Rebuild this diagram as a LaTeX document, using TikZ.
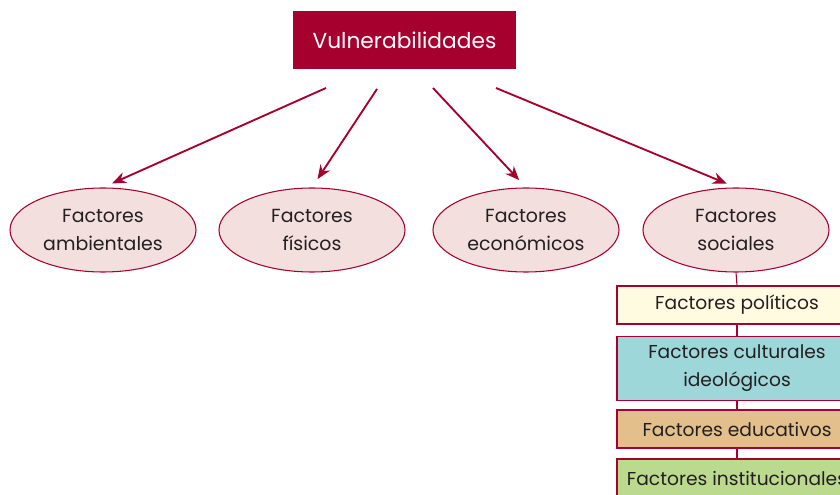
\documentclass[tikz,border=0pt]{standalone}
\usepackage{fontspec}
\setmainfont{Poppins}
\usepackage{tikz}
\usetikzlibrary{arrows.meta}
\usetikzlibrary{shapes.geometric}
\definecolor{vino}{HTML}{A6002F}
\definecolor{rosa}{HTML}{F4DFDF}
\definecolor{texto}{HTML}{231F20}
\definecolor{crema}{HTML}{FFFBE1}
\definecolor{turquesa}{HTML}{9DD7DA}
\definecolor{ocre}{HTML}{E3BF8C}
\definecolor{verde}{HTML}{BBDA8D}
\tikzset{titulo/.style = {fill=vino, text=white, minimum width=167.25pt, minimum height=43.5pt, inner sep=0, font=\fontsize{16.3}{20}\selectfont}}
\tikzset{factor/.style = {ellipse, draw=vino, fill=rosa, line width=0.8pt, minimum width=139.5pt, minimum height=63pt, inner sep=0, align=center, text=texto, font=\fontsize{14.2}{21}\selectfont}}
\tikzset{tipo/.style = {draw=vino, line width=1pt, minimum width=180pt, minimum height=28.5pt, inner sep=0, align=center, text=texto, font=\fontsize{14}{21}\selectfont}}
\tikzset{flecha/.style = {draw=vino, line width=1.4pt, -{Stealth[length=10.5pt, width=8.5pt]}, shorten >=7.5pt}}

\begin{document}
\begin{tikzpicture}[x=0.75pt, y=-0.75pt]
    \useasboundingbox (0, 0) rectangle (840, 495);
    \clip (0, 0) rectangle (840, 495);

    \node [titulo] (V) at (404.5, 40) {Vulnerabilidades};

    \node [factor] (amb) at (103, 230) {Factores\\ambientales};
    \node [factor] (fis) at (312, 230) {Factores\\físicos};
    \node [factor] (eco) at (526, 230) {Factores\\económicos};
    \node [factor] (soc) at (736, 230) {Factores\\sociales};

    \coordinate (s1) at (326, 88);
    \coordinate (s2) at (377, 89);
    \coordinate (s3) at (433, 88);
    \coordinate (s4) at (496, 88);

    \draw [flecha] (s1) -- (amb.north);
    \draw [flecha] (s2) -- (fis.north);
    \draw [flecha] (s3) -- (eco.north);
    \draw [flecha] (s4) -- (soc.north);

    \node [tipo, fill=crema] (pol) at (737, 305) {Factores políticos};
    \node [tipo, fill=turquesa, minimum height=48pt] (cul) at (737, 368.5) {Factores culturales\\ideológicos};
    \node [tipo, fill=ocre] (edu) at (737, 429) {Factores educativos};
    \node [tipo, fill=verde] (ins) at (737, 478) {Factores institucionales};

    \draw [vino, line width=0.8pt] (soc.south) -- (pol.north);
    \draw [vino, line width=0.8pt] (pol) -- (cul);
    \draw [vino, line width=0.8pt] (cul) -- (edu);
    \draw [vino, line width=0.8pt] (edu) -- (ins);
\end{tikzpicture}
\end{document}
